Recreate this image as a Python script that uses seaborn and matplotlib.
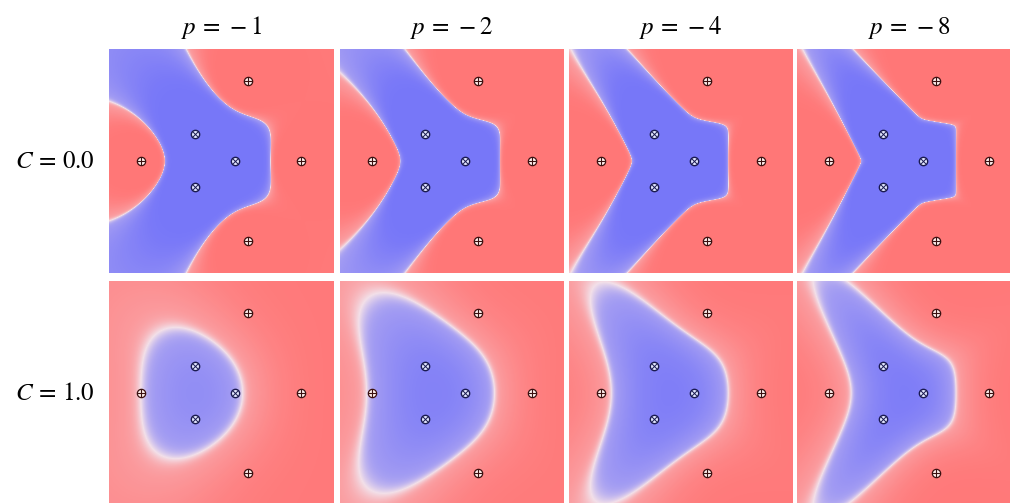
import numpy as np
import pandas as pd
import seaborn as sns
import matplotlib
matplotlib.use("Agg")
import matplotlib.pyplot as plt
from matplotlib.colors import LinearSegmentedColormap

# Training points (negative class marked with a cross, positive with a plus)
neg_x = [-0.25, -0.25, 0.125]
neg_y = [0.25, -0.25, 0.0]
pos_x = [0.25, -0.75, 0.75, 0.25]
pos_y = [0.75, 0.0, 0.0, -0.75]

# Power-mean exponents (columns) and smoothing constants (rows)
p_values = [-1, -2, -4, -8]
c_values = [0.0, 1.0]
col_titles = [r"$p\,=\,-1$", r"$p\,=\,-2$", r"$p\,=\,-4$", r"$p\,=\,-8$"]
row_titles = [r"$C\,=\,0.0$", r"$C\,=\,1.0$"]

L = 1.05
N = 224
step = 2 * L / N
xs = -L + (np.arange(N) + 0.5) * step
ys = L - (np.arange(N) + 0.5) * step
GX, GY = np.meshgrid(xs, ys)


def log_score(px, py, p, c):
    """log of the class score  sum_i (d_i^2 + C)^p / n^(1-C)."""
    px = np.asarray(px)[:, None, None]
    py = np.asarray(py)[:, None, None]
    d2 = (GX - px) ** 2 + (GY - py) ** 2 + c + 1e-12
    t = p * np.log(d2)
    tmax = t.max(axis=0)
    lse = tmax + np.log(np.exp(t - tmax).sum(axis=0))
    return lse - (1.0 - c) * np.log(len(px))


cmap = LinearSegmentedColormap.from_list(
    "rb", [(0.0, "#ff7777"), (0.5, "#f2dfe8"), (1.0, "#7777f8")])

plt.rcParams["mathtext.fontset"] = "stix"
fig = plt.figure(figsize=(10.10, 5.03), dpi=100)
W, H = 1010.0, 503.0
lefts = [109, 339.5, 568.5, 797]
tops = [49, 281]
pw, ph = 224.5, 223.5

for r, c in enumerate(c_values):
    for k, p in enumerate(p_values):
        ax = fig.add_axes([lefts[k] / W, 1 - (tops[r] + ph) / H, pw / W, ph / H])
        margin = (log_score(neg_x, neg_y, p, c) - log_score(pos_x, pos_y, p, c)) / abs(p)
        strength = 0.6 + 0.4 * np.tanh(3.5 * np.abs(margin))
        val = np.tanh(40.0 * margin) * strength
        sns.heatmap(pd.DataFrame(val), ax=ax, cmap=cmap, vmin=-1, vmax=1,
                    cbar=False, xticklabels=False, yticklabels=False,
                    rasterized=True)
        # training points in heatmap cell coordinates
        pdf = pd.DataFrame({"x": (np.array(pos_x) + L) / step,
                            "y": (L - np.array(pos_y)) / step})
        ndf = pd.DataFrame({"x": (np.array(neg_x) + L) / step,
                            "y": (L - np.array(neg_y)) / step})
        sns.scatterplot(data=pdf, x="x", y="y", ax=ax, marker="o", s=36,
                        facecolor="#fff0ee", edgecolor="#3a1010", linewidth=0.9,
                        zorder=3)
        sns.scatterplot(data=pdf, x="x", y="y", ax=ax, marker="+", s=32,
                        color="#3a1010", linewidth=0.8, zorder=4)
        sns.scatterplot(data=ndf, x="x", y="y", ax=ax, marker="o", s=36,
                        facecolor="#e4e8ff", edgecolor="#1a1a50", linewidth=1.0,
                        zorder=3)
        sns.scatterplot(data=ndf, x="x", y="y", ax=ax, marker="x", s=16,
                        color="#1a1a50", linewidth=0.7, zorder=4)
        ax.set_xlim(0, N)
        ax.set_ylim(N, 0)
        ax.set_xlabel("")
        ax.set_ylabel("")
        for sp in ax.spines.values():
            sp.set_visible(False)
        if r == 0:
            ax.set_title(col_titles[k], fontsize=18, pad=11)
    fig.text(95 / W, 1 - (tops[r] + ph / 2) / H, row_titles[r], fontsize=18,
             ha="right", va="center")

fig.savefig("out.png", dpi=100)
